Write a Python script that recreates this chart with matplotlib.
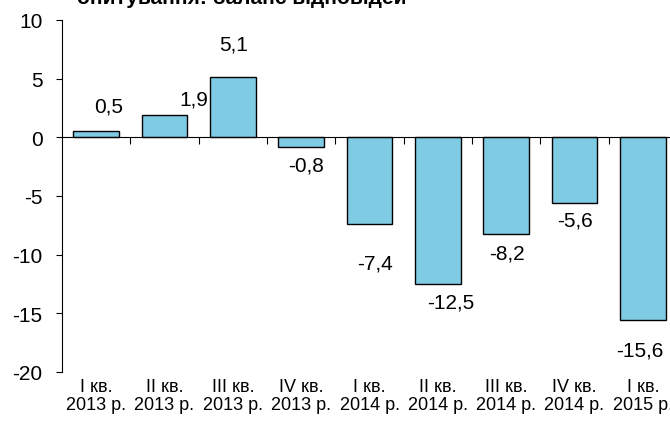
import matplotlib.pyplot as plt

plt.rcParams['font.family'] = ['Liberation Sans', 'DejaVu Sans']
plt.rcParams['axes.unicode_minus'] = False

quarters = ['I кв.\n2013 р.', 'II кв.\n2013 р.', 'III кв.\n2013 р.', 'IV кв.\n2013 р.',
            'I кв.\n2014 р.', 'II кв.\n2014 р.', 'III кв.\n2014 р.', 'IV кв.\n2014 р.',
            'I кв.\n2015 р.']
balance = [0.5, 1.9, 5.1, -0.8, -7.4, -12.5, -8.2, -5.6, -15.6]

# label nudges (pixels) as placed in the original chart
label_dx = [12, 29, 1, 5, 6, 13, 1, 0, -3]
label_dy = [27, 18, 35, -16, -37, -16, -17, -15, -28]

fig = plt.figure(figsize=(6.7, 4.27), dpi=100)
ax = fig.add_axes([62 / 670, 1 - 373 / 427, 615 / 670, 352 / 427])

x = range(len(balance))
ax.bar(x, balance, width=0.67, color='#7ECBE3', edgecolor='black', linewidth=1, zorder=2)

for i, v in enumerate(balance):
    ax.annotate(f'{v:.1f}'.replace('.', ','), (i, v),
                xytext=(label_dx[i], label_dy[i]), textcoords='offset pixels',
                ha='center', va='center_baseline', fontsize=15)

ax.set_xlim(-0.5, 8.5)
ax.set_ylim(-20, 10)
ax.set_yticks(range(-20, 11, 5))
ax.tick_params(axis='y', direction='out', length=4, labelsize=15, pad=10)

# zero line with boundary ticks
ax.spines['bottom'].set_position(('data', 0))
ax.spines['top'].set_visible(False)
ax.spines['right'].set_visible(False)
ax.set_xticks([i + 0.5 for i in range(len(balance) - 1)])
ax.set_xticklabels([])
ax.tick_params(axis='x', direction='out', length=5)

for i, q in enumerate(quarters):
    ax.text(i, -20.5, q, ha='center', va='top', fontsize=13, linespacing=1.1)

fig.text(77 / 670, 1 - 4 / 427, 'опитування: баланс відповідей', fontsize=15,
         fontweight='bold', ha='left', va='baseline')

plt.savefig('out.png')
